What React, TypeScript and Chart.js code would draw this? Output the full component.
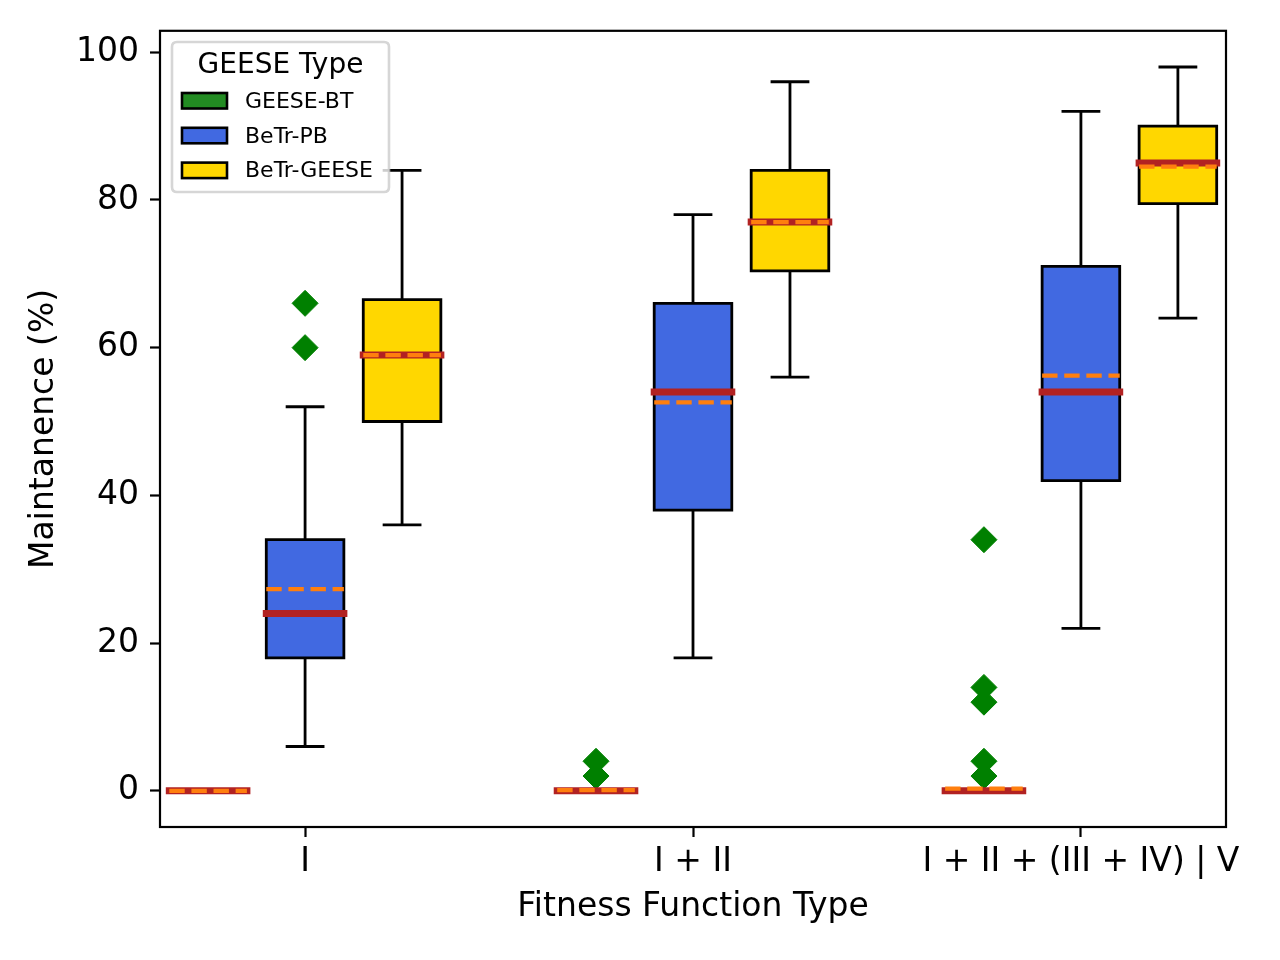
import React, { useEffect, useRef } from "react";
import { Chart, registerables } from "chart.js";

Chart.register(...registerables);

// ---------- data ----------
const categories = ["I", "I + II", "I + II + (III + IV) | V"];
const categoryPositions = [1, 2, 3];
const seriesNames = ["GEESE-BT", "BeTr-PB", "BeTr-GEESE"];
const seriesColors = ["#228B22", "#4169E1", "#FFD700"];
const seriesOffsets = [-0.25, 0, 0.25];

// rows: series (GEESE-BT, BeTr-PB, BeTr-GEESE); columns: categories
const whiskerLow = [
  [0, 0, 0],
  [6, 18, 22],
  [36, 56, 64],
];
const quartile1 = [
  [0, 0, 0],
  [18, 38, 42],
  [50, 70.4, 79.5],
];
const medians = [
  [0, 0, 0],
  [24, 54, 54],
  [59, 77, 85],
];
const quartile3 = [
  [0, 0, 0],
  [34, 66, 71],
  [66.5, 84, 90],
];
const whiskerHigh = [
  [0, 0, 0],
  [52, 78, 92],
  [84, 96, 98],
];
const means = [
  [0, 0.1, 0.3],
  [27.3, 52.6, 56.2],
  [59, 77, 84.5],
];
const outliers = [
  [[], [2, 4], [2, 4, 12, 14, 34]],
  [[60, 66], [], []],
  [[], [], []],
];
const yTicks = [0, 20, 40, 60, 80, 100];

// ---------- styles ----------
const FONT = "'DejaVu Sans', 'Liberation Sans', sans-serif";
const BOX_HALF = 0.1;
const CAP_HALF = 0.05;

const boxPlugin = {
  id: "boxPlot",
  beforeDatasetsDraw(chart: any) {
    const ctx = chart.ctx;
    const xs = chart.scales.x;
    const ys = chart.scales.y;
    ctx.save();
    for (let s = 0; s < seriesNames.length; s++) {
      for (let c = 0; c < categories.length; c++) {
        const pos = categoryPositions[c] + seriesOffsets[s];
        const xc = xs.getPixelForValue(pos);
        const xl = xs.getPixelForValue(pos - BOX_HALF);
        const xr = xs.getPixelForValue(pos + BOX_HALF);
        const cl = xs.getPixelForValue(pos - CAP_HALF);
        const cr = xs.getPixelForValue(pos + CAP_HALF);
        const yLo = ys.getPixelForValue(whiskerLow[s][c]);
        const yQ1 = ys.getPixelForValue(quartile1[s][c]);
        const yQ3 = ys.getPixelForValue(quartile3[s][c]);
        const yHi = ys.getPixelForValue(whiskerHigh[s][c]);
        ctx.strokeStyle = "#000";
        ctx.lineWidth = 2.8;
        ctx.lineCap = "butt";
        ctx.setLineDash([]);
        // whiskers
        ctx.beginPath();
        ctx.moveTo(xc, yQ1);
        ctx.lineTo(xc, yLo);
        ctx.moveTo(xc, yQ3);
        ctx.lineTo(xc, yHi);
        // caps
        ctx.moveTo(cl, yLo);
        ctx.lineTo(cr, yLo);
        ctx.moveTo(cl, yHi);
        ctx.lineTo(cr, yHi);
        ctx.stroke();
        // box
        ctx.fillStyle = seriesColors[s];
        ctx.beginPath();
        ctx.rect(xl, yQ3, xr - xl, yQ1 - yQ3);
        ctx.fill();
        ctx.stroke();
      }
    }
    ctx.restore();
  },
  afterDatasetsDraw(chart: any) {
    const ctx = chart.ctx;
    const xs = chart.scales.x;
    const ys = chart.scales.y;
    const area = chart.chartArea;
    ctx.save();
    for (let s = 0; s < seriesNames.length; s++) {
      for (let c = 0; c < categories.length; c++) {
        const pos = categoryPositions[c] + seriesOffsets[s];
        const xl = xs.getPixelForValue(pos - BOX_HALF);
        const xr = xs.getPixelForValue(pos + BOX_HALF);
        // median
        const yM = ys.getPixelForValue(medians[s][c]);
        ctx.setLineDash([]);
        ctx.strokeStyle = "#B22222";
        ctx.lineWidth = 7;
        ctx.lineCap = "square";
        ctx.beginPath();
        ctx.moveTo(xl, yM);
        ctx.lineTo(xr, yM);
        ctx.stroke();
        // mean
        const yMean = ys.getPixelForValue(means[s][c]);
        ctx.strokeStyle = "#FF7F0E";
        ctx.lineWidth = 4.2;
        ctx.lineCap = "butt";
        ctx.setLineDash([15.4, 6.7]);
        ctx.lineDashOffset = 0;
        ctx.beginPath();
        ctx.moveTo(xl, yMean);
        ctx.lineTo(xr, yMean);
        ctx.stroke();
      }
    }
    ctx.setLineDash([]);
    // frame
    ctx.strokeStyle = "#000";
    ctx.lineWidth = 2.2;
    ctx.strokeRect(area.left, area.top, area.right - area.left, area.bottom - area.top);

    // legend
    const lx = 172, ly = 42, lw = 217, lh = 150, r = 5;
    ctx.beginPath();
    ctx.moveTo(lx + r, ly);
    ctx.lineTo(lx + lw - r, ly);
    ctx.quadraticCurveTo(lx + lw, ly, lx + lw, ly + r);
    ctx.lineTo(lx + lw, ly + lh - r);
    ctx.quadraticCurveTo(lx + lw, ly + lh, lx + lw - r, ly + lh);
    ctx.lineTo(lx + r, ly + lh);
    ctx.quadraticCurveTo(lx, ly + lh, lx, ly + lh - r);
    ctx.lineTo(lx, ly + r);
    ctx.quadraticCurveTo(lx, ly, lx + r, ly);
    ctx.closePath();
    ctx.fillStyle = "rgba(255,255,255,0.8)";
    ctx.fill();
    ctx.strokeStyle = "rgba(204,204,204,0.8)";
    ctx.lineWidth = 2.6;
    ctx.stroke();

    ctx.fillStyle = "#000";
    ctx.font = `28px ${FONT}`;
    ctx.textAlign = "center";
    ctx.textBaseline = "alphabetic";
    ctx.fillText("GEESE Type", lx + lw / 2, 73);

    ctx.font = `22px ${FONT}`;
    ctx.textAlign = "left";
    for (let s = 0; s < seriesNames.length; s++) {
      const top = 93 + s * 34.8;
      ctx.fillStyle = seriesColors[s];
      ctx.fillRect(182, top, 45, 15.5);
      ctx.strokeStyle = "#000";
      ctx.lineWidth = 2.6;
      ctx.strokeRect(182, top, 45, 15.5);
      ctx.fillStyle = "#000";
      ctx.fillText(seriesNames[s], 245, 107.7 + s * 34.8);
    }
    ctx.restore();
  },
};

export default function App() {
  const canvasRef = useRef<HTMLCanvasElement | null>(null);

  useEffect(() => {
    const canvas = canvasRef.current;
    if (!canvas) return;

    const flierPoints: { x: number; y: number }[] = [];
    for (let s = 0; s < seriesNames.length; s++) {
      for (let c = 0; c < categories.length; c++) {
        for (const v of outliers[s][c]) {
          flierPoints.push({ x: categoryPositions[c] + seriesOffsets[s], y: v });
        }
      }
    }

    const tickFont = { family: FONT, size: 33 };

    const chart = new Chart(canvas, {
      type: "scatter",
      data: {
        datasets: [
          {
            label: "fliers",
            data: flierPoints,
            pointStyle: "rectRot",
            pointRadius: 13,
            pointHoverRadius: 13,
            backgroundColor: "#008000",
            borderColor: "#008000",
            borderWidth: 1,
          },
        ],
      },
      options: {
        responsive: false,
        animation: false,
        devicePixelRatio: 1,
        layout: { padding: { left: 0, top: 30, right: 54, bottom: 0 } },
        plugins: {
          legend: { display: false },
          tooltip: { enabled: false },
          title: { display: false },
        },
        scales: {
          x: {
            type: "linear",
            min: 0.626,
            max: 3.374,
            afterBuildTicks: (scale: any) => {
              scale.ticks = categoryPositions.map((v) => ({ value: v }));
            },
            afterFit: (scale: any) => {
              scale.height = 133;
            },
            ticks: {
              autoSkip: false,
              maxRotation: 0,
              minRotation: 0,
              padding: 5.4,
              color: "#000",
              font: tickFont,
              callback: (v: any) => {
                const i = categoryPositions.indexOf(Number(v));
                return i >= 0 ? categories[i] : "";
              },
            },
            grid: {
              drawOnChartArea: false,
              drawTicks: true,
              tickLength: 10,
              tickWidth: 2.2,
              tickColor: "#000",
            },
            border: { display: false },
            title: {
              display: true,
              text: "Fitness Function Type",
              color: "#000",
              font: tickFont,
              padding: { top: 0, bottom: 32.4 },
            },
          },
          y: {
            type: "linear",
            min: -4.9,
            max: 102.9,
            afterBuildTicks: (scale: any) => {
              scale.ticks = yTicks.map((v) => ({ value: v }));
            },
            afterFit: (scale: any) => {
              scale.width = 160;
            },
            ticks: {
              padding: 11,
              color: "#000",
              font: tickFont,
              callback: (v: any) => String(v),
            },
            grid: {
              drawOnChartArea: false,
              drawTicks: true,
              tickLength: 10,
              tickWidth: 2.2,
              tickColor: "#000",
            },
            border: { display: false },
            title: {
              display: true,
              text: "Maintanence (%)",
              color: "#000",
              font: tickFont,
              padding: { top: 25, bottom: 0 },
            },
          },
        },
      },
      plugins: [boxPlugin],
    } as any);

    return () => chart.destroy();
  }, []);

  return (
    <div style={{ position: "absolute", left: 0, top: 0, width: 1280, height: 960, background: "#fff" }}>
      <canvas ref={canvasRef} width={1280} height={960} style={{ display: "block" }} />
    </div>
  );
}
